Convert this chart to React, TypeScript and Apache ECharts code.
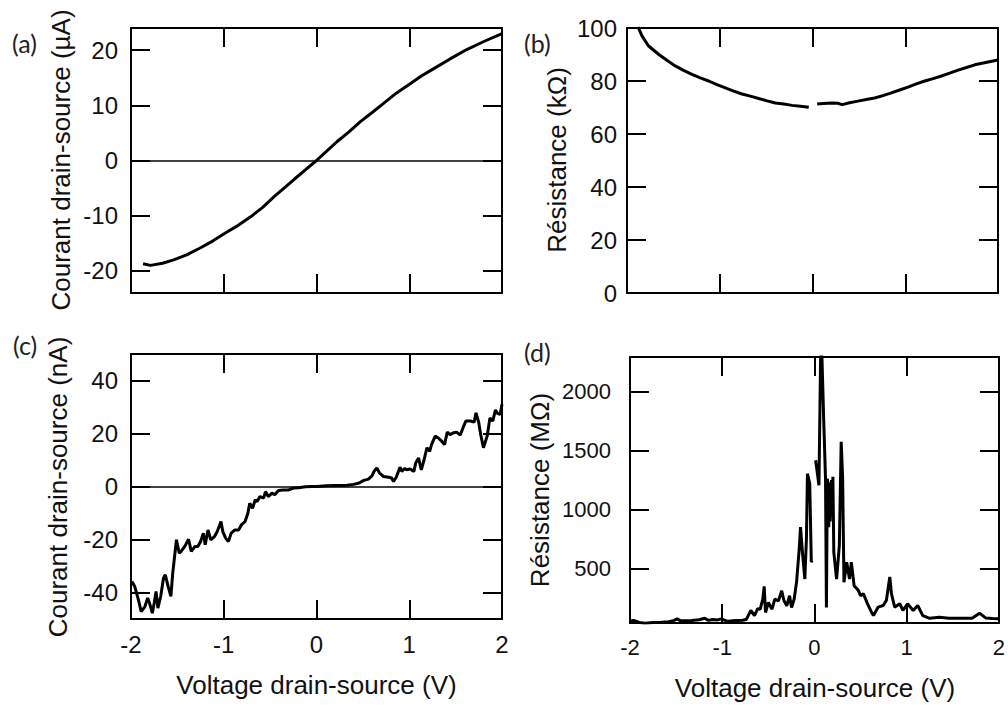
import React, { useEffect, useRef } from "react";
import * as echarts from "echarts";

// ---- Panel (a): current (µA) vs voltage (V)
const aVolt = [-1.87, -1.79, -1.66, -1.54, -1.4, -1.26, -1.12, -0.97, -0.84, -0.71, -0.58, -0.46, -0.35, -0.24, -0.12, 0, 0.11, 0.22, 0.35, 0.47, 0.6, 0.72, 0.86, 1.01, 1.13, 1.26, 1.44, 1.62, 1.81, 2.0];
const aCurr = [-18.7, -19.0, -18.6, -18.0, -17.1, -15.9, -14.6, -13.0, -11.7, -10.2, -8.5, -6.6, -5.0, -3.4, -1.7, 0, 1.7, 3.4, 5.2, 7.0, 8.7, 10.3, 12.2, 13.9, 15.3, 16.6, 18.4, 20.1, 21.6, 23.0];

// ---- Panel (b): resistance (kΩ) vs voltage, two branches (gap at 0 V)
const bVoltNeg = [-1.88, -1.84, -1.77, -1.66, -1.57, -1.48, -1.39, -1.3, -1.21, -1.12, -1.03, -0.94, -0.85, -0.76, -0.67, -0.58, -0.49, -0.4, -0.31, -0.22, -0.13, -0.04];
const bResNeg = [100.4, 97.1, 93.3, 90.1, 87.8, 85.7, 84.0, 82.5, 81.2, 80.0, 78.6, 77.4, 76.2, 75.1, 74.3, 73.4, 72.5, 71.7, 71.3, 70.8, 70.5, 70.1];
const bVoltPos = [0.05, 0.12, 0.21, 0.27, 0.32, 0.4, 0.49, 0.58, 0.67, 0.76, 0.85, 0.94, 1.03, 1.12, 1.21, 1.3, 1.39, 1.48, 1.57, 1.66, 1.75, 1.84, 2.0];
const bResPos = [71.3, 71.5, 71.7, 71.6, 71.1, 71.8, 72.4, 73.0, 73.6, 74.5, 75.5, 76.6, 77.7, 78.9, 80.0, 80.9, 81.9, 83.0, 84.1, 85.1, 86.1, 86.8, 87.9];

// ---- Panel (c): current (nA) vs voltage
const cVolt = [-1.99, -1.96, -1.92, -1.89, -1.85, -1.82, -1.8, -1.77, -1.75, -1.73, -1.71, -1.68, -1.65, -1.63, -1.6, -1.57, -1.55, -1.51, -1.48, -1.46, -1.42, -1.38, -1.35, -1.31, -1.28, -1.25, -1.22, -1.2, -1.17, -1.14, -1.1, -1.07, -1.03, -1.01, -0.98, -0.95, -0.92, -0.88, -0.84, -0.81, -0.77, -0.74, -0.72, -0.69, -0.66, -0.64, -0.61, -0.57, -0.55, -0.52, -0.48, -0.45, -0.41, -0.36, -0.3, -0.25, -0.19, -0.12, -0.05, 0, 0.11, 0.19, 0.26, 0.33, 0.4, 0.46, 0.51, 0.56, 0.6, 0.62, 0.65, 0.68, 0.72, 0.78, 0.81, 0.83, 0.86, 0.9, 0.92, 0.95, 0.97, 1.01, 1.05, 1.07, 1.1, 1.13, 1.16, 1.19, 1.22, 1.24, 1.28, 1.31, 1.35, 1.38, 1.41, 1.44, 1.48, 1.51, 1.55, 1.58, 1.61, 1.66, 1.7, 1.72, 1.75, 1.77, 1.8, 1.84, 1.87, 1.9, 1.93, 1.95, 1.98, 2.0];
const cCurr = [-35.8, -37.7, -42.8, -47.2, -45.3, -42.1, -44.0, -47.8, -44.0, -39.6, -45.9, -41.5, -34.6, -33.3, -37.7, -41.5, -32.7, -20.1, -25.2, -24.5, -22.6, -19.9, -24.5, -22.6, -22.6, -20.8, -17.6, -22.0, -16.4, -20.1, -18.9, -17.0, -13.2, -17.0, -19.5, -20.8, -17.6, -16.4, -16.4, -14.5, -13.2, -10.1, -6.3, -8.2, -5.0, -5.7, -3.8, -4.4, -1.9, -3.8, -2.5, -3.1, -1.5, -1.3, -1.3, -0.6, -0.5, -0.1, 0, 0, 0.25, 0.4, 0.4, 0.5, 0.8, 1.3, 2.3, 2.8, 4.1, 5.7, 7.0, 5.1, 3.8, 3.5, 3.2, 1.9, 3.5, 7.3, 5.7, 6.8, 6.3, 6.6, 5.7, 8.9, 10.8, 6.3, 10.1, 14.6, 13.3, 15.8, 19.0, 18.4, 17.1, 15.8, 20.5, 19.6, 20.3, 20.5, 19.4, 22.2, 24.7, 24.7, 24.3, 27.8, 24.0, 19.6, 14.6, 19.0, 25.9, 24.7, 28.9, 27.6, 27.2, 31.0];

// ---- Panel (d): resistance (MΩ) vs voltage, two branches (gap at 0 V)
const dVoltNeg = [-2.0, -1.96, -1.9, -1.835, -1.75, -1.66, -1.58, -1.52, -1.49, -1.45, -1.4, -1.33, -1.25, -1.19, -1.15, -1.1, -1.05, -1.01, -0.95, -0.9, -0.83, -0.78, -0.74, -0.69, -0.65, -0.617, -0.588, -0.56, -0.545, -0.53, -0.5, -0.46, -0.43, -0.39, -0.355, -0.33, -0.3, -0.27, -0.248, -0.22, -0.194, -0.165, -0.151, -0.13, -0.104, -0.087, -0.076, -0.051, -0.034, -0.026];
const dResNeg = [55, 61, 45, 38, 44, 46, 50, 62, 75, 58, 60, 61, 68, 80, 62, 70, 66, 75, 55, 58, 61, 63, 69, 146, 103, 160, 157, 242, 350, 129, 214, 157, 242, 228, 313, 228, 186, 271, 171, 242, 384, 666, 851, 638, 412, 751, 1303, 1219, 554, 570];
const dVoltPos = [0.013, 0.049, 0.067, 0.081, 0.1, 0.12, 0.13, 0.14, 0.15, 0.155, 0.165, 0.17, 0.185, 0.19, 0.2, 0.21, 0.24, 0.27, 0.29, 0.306, 0.32, 0.35, 0.38, 0.4, 0.43, 0.476, 0.5, 0.53, 0.577, 0.62, 0.64, 0.69, 0.745, 0.78, 0.817, 0.835, 0.87, 0.925, 0.96, 1.01, 1.07, 1.12, 1.175, 1.25, 1.355, 1.46, 1.6, 1.71, 1.79, 1.856, 1.93, 2.0];
const dResPos = [1417, 1205, 2300, 2300, 1771, 1261, 171, 1261, 1150, 850, 1230, 900, 1250, 950, 1276, 638, 412, 695, 1573, 1261, 384, 554, 412, 554, 356, 316, 271, 288, 200, 129, 103, 174, 188, 231, 429, 288, 174, 203, 146, 203, 146, 188, 103, 80, 89, 80, 80, 80, 123, 83, 78, 75];

// ---- Tick values
const xTicks = [-2, -1, 0, 1, 2];
const aYTicks = [-20, -10, 0, 10, 20];
const bYTicks = [0, 20, 40, 60, 80, 100];
const cYTicks = [-40, -20, 0, 20, 40];
const dYTicks = [500, 1000, 1500, 2000];

// ---- Titles
const xTitle = "Voltage drain-source (V)";
const yTitles = ["Courant drain-source (µA)", "Résistance (kΩ)", "Courant drain-source (nA)", "Résistance (MΩ)"];
const panelTags = ["(a)", "(b)", "(c)", "(d)"];

const zip = (xs: number[], ys: number[]) => xs.map((x, i) => [x, ys[i]]);

const FONT = "'Liberation Sans', Arial, Helvetica, sans-serif";
const TXT = "#111";
const TICK_LEN = 19;

const mkLine = () => ({ show: true, onZero: false, lineStyle: { color: "#000", width: 2 } });

function buildOption() {
  const grids = [
    { left: 131, top: 28, width: 371, height: 265 },
    { left: 627, top: 28, width: 371, height: 265 },
    { left: 131, top: 354, width: 371, height: 265 },
    { left: 630, top: 357, width: 370, height: 266 },
  ];
  const xMin = -2;
  const xMax = 2;
  const yCfg = [
    { min: -24, max: 24, ticks: aYTicks, margin: 13, fs: 24 },
    { min: 0, max: 100, ticks: bYTicks, margin: 10, fs: 24 },
    { min: -50, max: 50, ticks: cYTicks, margin: 13, fs: 24 },
    { min: 40, max: 2290, ticks: dYTicks, margin: 19, fs: 22 },
  ];
  const showX = [false, false, true, true];
  const xFs = [24, 24, 24, 22];

  const xAxis: any[] = [];
  const yAxis: any[] = [];
  for (let g = 0; g < 4; g++) {
    xAxis.push({
      type: "value",
      gridIndex: g,
      min: xMin,
      max: xMax,
      interval: 1,
      axisLine: mkLine(),
      axisTick: { show: false },
      splitLine: { show: false },
      axisLabel: { show: showX[g], margin: 13, fontSize: xFs[g], fontFamily: FONT, color: TXT },
    });
    xAxis.push({
      type: "value",
      gridIndex: g,
      min: xMin,
      max: xMax,
      interval: 1,
      axisLine: mkLine(),
      axisTick: { show: false },
      splitLine: { show: false },
      axisLabel: { show: false },
    });
    const c = yCfg[g];
    yAxis.push({
      type: "value",
      gridIndex: g,
      min: c.min,
      max: c.max,
      axisLine: mkLine(),
      axisTick: { show: false },
      splitLine: { show: false },
      axisLabel: {
        customValues: c.ticks,
        margin: c.margin,
        fontSize: c.fs,
        fontFamily: FONT,
        color: TXT,
        formatter: (v: number) => String(v),
      },
    });
    yAxis.push({
      type: "value",
      gridIndex: g,
      min: c.min,
      max: c.max,
      axisLine: mkLine(),
      axisTick: { show: false },
      splitLine: { show: false },
      axisLabel: { show: false },
    });
  }

  // Inward tick marks on all four sides, drawn as short mark-line segments in data coordinates
  const tickMarks = (g: number, withZero: boolean) => {
    const c = yCfg[g];
    const gr = grids[g];
    const dy = (TICK_LEN * (c.max - c.min)) / gr.height;
    const dx = (TICK_LEN * (xMax - xMin)) / gr.width;
    const data: any[] = [];
    xTicks
      .filter((v) => v > xMin && v < xMax)
      .forEach((v) => {
        data.push([{ coord: [v, c.min] }, { coord: [v, c.min + dy] }]);
        data.push([{ coord: [v, c.max] }, { coord: [v, c.max - dy] }]);
      });
    c.ticks
      .filter((v) => v > c.min && v < c.max)
      .forEach((v) => {
        data.push([{ coord: [xMin, v] }, { coord: [xMin + dx, v] }]);
        data.push([{ coord: [xMax, v] }, { coord: [xMax - dx, v] }]);
      });
    if (withZero) {
      data.push({ yAxis: 0, lineStyle: { width: 1.5 } });
    }
    return {
      silent: true,
      symbol: ["none", "none"],
      label: { show: false },
      lineStyle: { color: "#000", width: 2, type: "solid" },
      data,
    };
  };

  const mk = (g: number, data: number[][], extra: any = {}) => ({
    type: "line",
    xAxisIndex: g * 2,
    yAxisIndex: g * 2,
    data,
    showSymbol: false,
    lineStyle: { color: "#000", width: 3 },
    itemStyle: { color: "#000" },
    ...extra,
  });

  const series = [
    mk(0, zip(aVolt, aCurr), { markLine: tickMarks(0, true) }),
    mk(1, zip(bVoltNeg, bResNeg), { markLine: tickMarks(1, false) }),
    mk(1, zip(bVoltPos, bResPos)),
    mk(2, zip(cVolt, cCurr), { markLine: tickMarks(2, true) }),
    mk(3, zip(dVoltNeg, dResNeg), { markLine: tickMarks(3, false) }),
    mk(3, zip(dVoltPos, dResPos)),
  ];

  const tagPos = [[12, 43], [524, 43], [13, 345], [524, 352]];
  const yTitlePos = [[61, 160], [557, 160], [58, 487], [540, 490]];
  const xTitlePos = [[316.5, 685], [815, 688]];

  const graphic: any[] = [];
  panelTags.forEach((t, i) =>
    graphic.push({
      type: "text",
      x: tagPos[i][0],
      y: tagPos[i][1],
      style: { text: t, fill: "#222", fontSize: 25, fontFamily: "Lato, 'Open Sans', sans-serif", verticalAlign: "middle", align: "left" },
    })
  );
  yTitles.forEach((t, i) =>
    graphic.push({
      type: "text",
      x: yTitlePos[i][0],
      y: yTitlePos[i][1],
      rotation: Math.PI / 2,
      style: { text: t, fill: TXT, fontSize: 26, fontFamily: FONT, align: "center", verticalAlign: "middle" },
    })
  );
  xTitlePos.forEach((p) =>
    graphic.push({
      type: "text",
      x: p[0],
      y: p[1],
      style: { text: xTitle, fill: TXT, fontSize: 26, fontFamily: FONT, align: "center", verticalAlign: "middle" },
    })
  );

  return {
    animation: false,
    grid: grids,
    xAxis,
    yAxis,
    series,
    graphic,
  };
}

export default function App() {
  const ref = useRef<HTMLDivElement>(null);
  useEffect(() => {
    if (!ref.current) return;
    const chart = echarts.init(ref.current, undefined, { renderer: "svg" });
    chart.setOption(buildOption() as any);
    return () => chart.dispose();
  }, []);
  return <div ref={ref} style={{ position: "absolute", left: 0, top: 0, width: 1008, height: 705 }} />;
}
